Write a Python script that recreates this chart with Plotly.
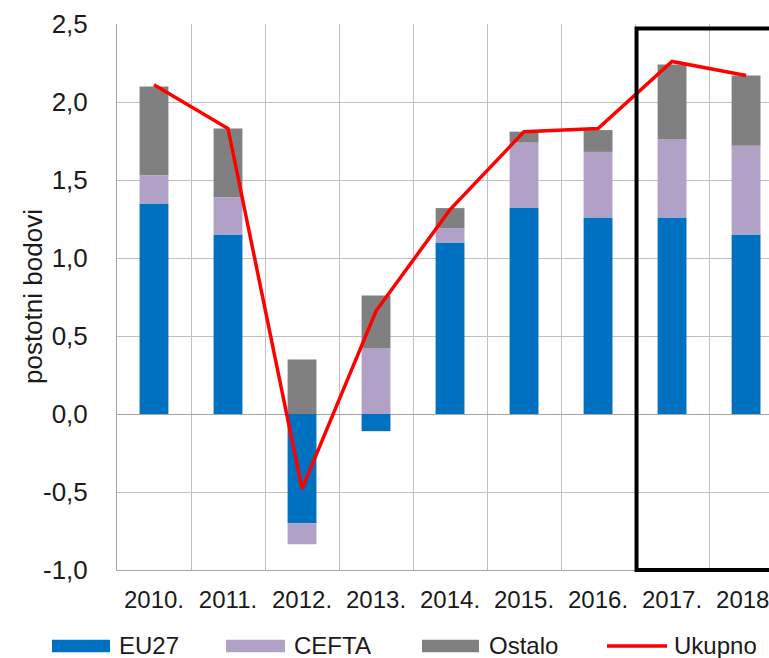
import plotly.graph_objects as go

years = ["2010.", "2011.", "2012.", "2013.", "2014.", "2015.", "2016.", "2017.", "2018."]
eu27 = [1.35, 1.15, -0.70, -0.11, 1.10, 1.32, 1.26, 1.26, 1.15]
cefta = [0.18, 0.24, -0.135, 0.42, 0.09, 0.42, 0.42, 0.50, 0.57]
ostalo = [0.57, 0.44, 0.35, 0.34, 0.13, 0.07, 0.14, 0.48, 0.45]
ukupno = [2.11, 1.83, -0.48, 0.66, 1.31, 1.81, 1.83, 2.26, 2.17]

y_tickvals = [-1.0, -0.5, 0.0, 0.5, 1.0, 1.5, 2.0, 2.5]
y_ticktext = ["-1,0", "-0,5", "0,0", "0,5", "1,0", "1,5", "2,0", "2,5"]
y_title = "postotni bodovi"

C_EU = "#0070C0"
C_CEFTA = "#B2A1C7"
C_OST = "#808080"
C_LINE = "#FF0000"

W, H = 769, 658
ML, MR, MT, MB = 117, 0, 24, 88
PW = W - ML - MR
PH = H - MT - MB


def px(x):
    return (x - ML) / PW


def py(y):
    return (H - MB - y) / PH


fig = go.Figure()
fig.add_trace(go.Bar(x=years, y=eu27, name="EU27", marker_color=C_EU, marker_line_width=0))
fig.add_trace(go.Bar(x=years, y=cefta, name="CEFTA", marker_color=C_CEFTA, marker_line_width=0))
fig.add_trace(go.Bar(x=years, y=ostalo, name="Ostalo", marker_color=C_OST, marker_line_width=0))
fig.add_trace(go.Scatter(x=years, y=ukupno, name="Ukupno", mode="lines",
                         line=dict(color=C_LINE, width=3.5)))

font = "Liberation Sans, Arial, sans-serif"

# projection frame (2017-2018)
fig.add_shape(type="rect", xref="x", yref="paper", x0=6.52, x1=9.2,
              y0=0, y1=py(28.5), line=dict(color="black", width=4))

# y-axis title
fig.add_annotation(text=y_title, xref="paper", yref="paper", x=px(33), y=py(297),
                   xanchor="center", yanchor="middle", textangle=-90, showarrow=False,
                   font=dict(size=26, color="#1a1a1a", family=font))

# custom legend
legend_items = [
    ("EU27", C_EU, "bar", 52, 110, 117),
    ("CEFTA", C_CEFTA, "bar", 226, 285, 292),
    ("Ostalo", C_OST, "bar", 422, 479, 487),
    ("Ukupno", C_LINE, "line", 607, 667, 672),
]
ly = 646
for name, col, kind, x0, x1, tx in legend_items:
    if kind == "bar":
        fig.add_shape(type="rect", xref="paper", yref="paper",
                      x0=px(x0), x1=px(x1), y0=py(ly + 6.3), y1=py(ly - 6.3),
                      fillcolor=col, line=dict(width=0))
    else:
        fig.add_shape(type="line", xref="paper", yref="paper",
                      x0=px(x0), x1=px(x1), y0=py(ly), y1=py(ly),
                      line=dict(color=col, width=3.5))
    fig.add_annotation(text=name, xref="paper", yref="paper", x=px(tx), y=py(ly - 1),
                       xanchor="left", yanchor="middle", showarrow=False,
                       height=26, valign="middle",
                       font=dict(size=24, color="#1a1a1a", family=font))

fig.update_layout(
    width=W, height=H,
    margin=dict(l=ML, r=MR, t=MT, b=MB, autoexpand=False),
    barmode="relative",
    bargap=0.61,
    paper_bgcolor="white",
    plot_bgcolor="white",
    showlegend=False,
    font=dict(family=font, size=22, color="#1a1a1a"),
)
fig.update_xaxes(
    type="category", range=[-0.5, 8.31], tickson="boundaries", automargin=False,
    showgrid=True, gridcolor="#BFBFBF", gridwidth=1,
    showline=True, linecolor="#A6A6A6", linewidth=1,
    ticks="", tickfont=dict(size=24), ticklabelstandoff=8,
)
fig.update_yaxes(
    range=[-1.0, 2.5], tickvals=y_tickvals, ticktext=y_ticktext, automargin=False,
    showgrid=True, gridcolor="#BFBFBF", gridwidth=1,
    zeroline=True, zerolinecolor="#A6A6A6", zerolinewidth=1,
    showline=True, linecolor="#A6A6A6", linewidth=1,
    ticks="", tickfont=dict(size=26), ticklabelstandoff=23,
)

fig.write_html("out.html", config={"displayModeBar": False},
               post_script="document.body.style.margin='0';")
